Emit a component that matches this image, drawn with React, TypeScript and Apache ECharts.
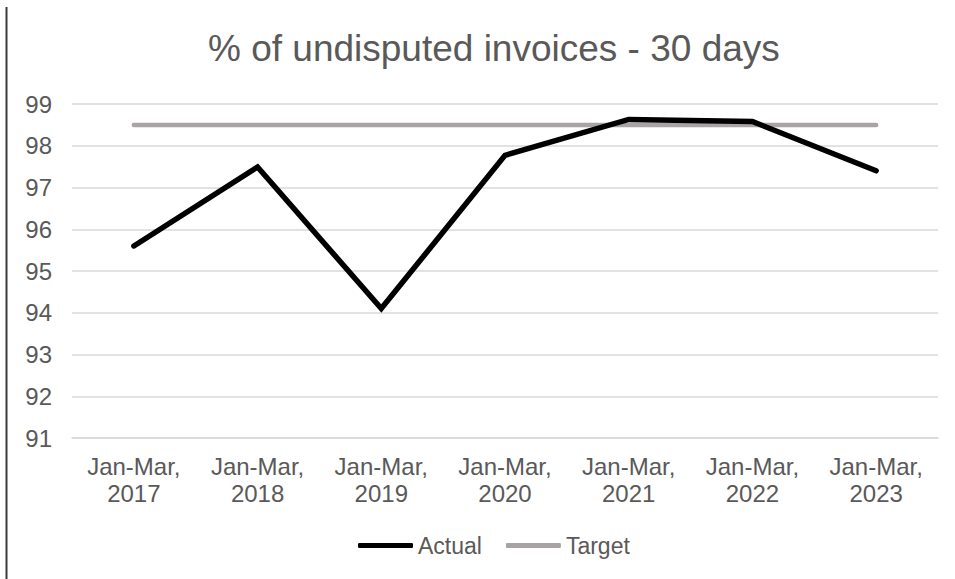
import React, { useEffect, useRef } from "react";
import * as echarts from "echarts";

const titleText = "% of undisputed invoices - 30 days";
const categories = [
  "Jan-Mar, 2017",
  "Jan-Mar, 2018",
  "Jan-Mar, 2019",
  "Jan-Mar, 2020",
  "Jan-Mar, 2021",
  "Jan-Mar, 2022",
  "Jan-Mar, 2023",
];
const actualValues = [95.6, 97.49, 94.1, 97.77, 98.63, 98.58, 97.4];
const targetValues = [98.5, 98.5, 98.5, 98.5, 98.5, 98.5, 98.5];
const yMin = 91;
const yMax = 99;
const yInterval = 1;

const FONT = "'Liberation Sans', Arial, sans-serif";
const TEXT_COLOR = "#595959";
const ACTUAL_COLOR = "#000000";
const TARGET_COLOR = "#a8a4a3";

export default function App() {
  const ref = useRef<HTMLDivElement>(null);

  useEffect(() => {
    if (!ref.current) return;
    const chart = echarts.init(ref.current, null, { renderer: "svg" });
    chart.setOption({
      animation: false,
      backgroundColor: "#ffffff",
      textStyle: { fontFamily: FONT },
      title: {
        text: titleText,
        left: 203,
        top: 25,
        textStyle: {
          fontFamily: FONT,
          fontSize: 37,
          fontWeight: "normal",
          color: TEXT_COLOR,
        },
      },
      grid: { left: 72, right: 17, top: 104, bottom: 141 },
      legend: {
        data: [
          { name: "Actual", icon: "roundRect", itemStyle: { color: ACTUAL_COLOR } },
          { name: "Target", icon: "roundRect", itemStyle: { color: TARGET_COLOR } },
        ],
        bottom: 17,
        left: 353,
        itemWidth: 55,
        itemHeight: 5,
        itemGap: 24,
        textStyle: { fontFamily: FONT, fontSize: 23, color: TEXT_COLOR },
      },
      xAxis: {
        type: "category",
        data: categories,
        boundaryGap: true,
        axisLine: { show: true, lineStyle: { color: "#d9d9d9", width: 1.5 } },
        axisTick: { show: false },
        axisLabel: {
          color: TEXT_COLOR,
          fontFamily: FONT,
          fontSize: 24,
          lineHeight: 27,
          margin: 15,
          interval: 0,
          formatter: (v: string) => v.replace(", ", ",\n"),
        },
      },
      yAxis: {
        type: "value",
        min: yMin,
        max: yMax,
        interval: yInterval,
        axisLine: { show: false },
        axisTick: { show: false },
        axisLabel: {
          color: TEXT_COLOR,
          fontFamily: FONT,
          fontSize: 24,
          margin: 20,
        },
        splitLine: { lineStyle: { color: "#d9d9d9", width: 1.5 } },
      },
      series: [
        {
          name: "Actual",
          type: "line",
          data: actualValues,
          symbol: "none",
          z: 3,
          lineStyle: { color: ACTUAL_COLOR, width: 5.5, cap: "round", join: "miter" },
          itemStyle: { color: ACTUAL_COLOR },
        },
        {
          name: "Target",
          type: "line",
          data: targetValues,
          symbol: "none",
          z: 2,
          lineStyle: { color: TARGET_COLOR, width: 4.5, cap: "round" },
          itemStyle: { color: TARGET_COLOR },
        },
      ],
      graphic: [
        {
          type: "line",
          shape: { x1: 6.5, y1: 7, x2: 6.5, y2: 579 },
          style: { stroke: "#3a3a3a", lineWidth: 2 },
        },
      ],
    });
    return () => chart.dispose();
  }, []);

  return (
    <div
      ref={ref}
      style={{ position: "fixed", left: 0, top: 0, width: 955, height: 579 }}
    />
  );
}
